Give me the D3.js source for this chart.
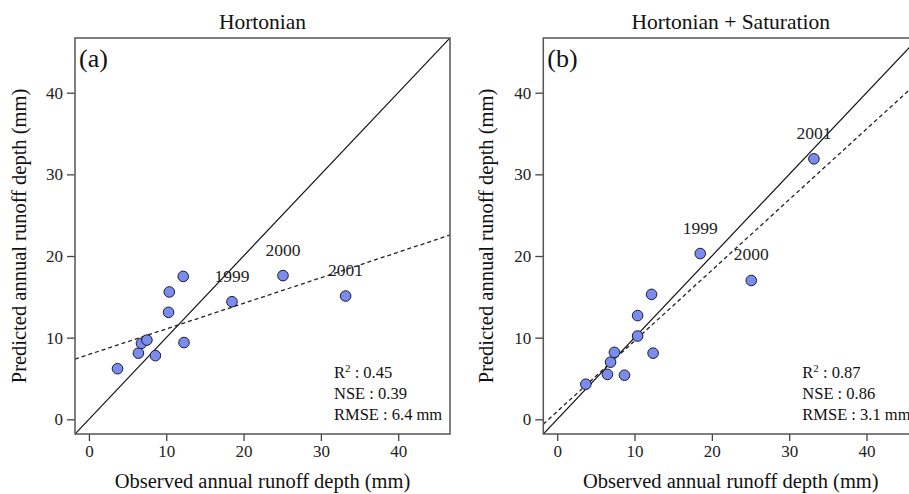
<!DOCTYPE html>
<html>
<head>
  <title>Observed vs predicted annual runoff depth</title>
  <style>
    body { margin: 0; background: #fff; }
    svg { display: block; font-family: 'Liberation Serif', serif; }
  </style>
</head>
<body>
  <div id="chart-container"></div>
  <script src="https://d3js.org/d3.v7.min.js"></script>
  <script>
    // values
    const observedA = [3.7, 6.4, 6.8, 7.5, 8.6, 10.3, 10.4, 12.2, 12.3, 18.5, 25.1, 33.2];
    const predictedA = [6.2, 8.1, 9.3, 9.7, 7.8, 13.1, 15.6, 17.5, 9.4, 14.4, 17.6, 15.1];
    const observedB = [3.7, 6.5, 6.9, 7.4, 8.7, 10.4, 10.4, 12.2, 12.4, 18.5, 25.1, 33.2];
    const predictedB = [4.3, 5.5, 7.0, 8.2, 5.4, 10.2, 12.7, 15.3, 8.1, 20.3, 17.0, 31.9];
    const yearLabels = ['', '', '', '', '', '', '', '', '', '1999', '2000', '2001'];
    const tickValues = [0, 10, 20, 30, 40];
    const axisDomain = [-1.8, 46.7];
    const panelTitles = ['Hortonian', 'Hortonian + Saturation'];
    const panelTags = ['(a)', '(b)'];
    const statsA = ['0.45', '0.39', '6.4 mm'];
    const statsB = ['0.87', '0.86', '3.1 mm'];

    const width = 909;
    const height = 494;
    const plotW = 375;
    const plotH = 396;
    const plotTop = 38;

    const svg = d3.select('#chart-container')
      .append('svg')
      .attr('width', width)
      .attr('height', height);

    const panels = [
      { left: 75, obs: observedA, pred: predictedA, stats: statsA },
      { left: 543.3, obs: observedB, pred: predictedB, stats: statsB },
    ];

    function fitLine(xs, ys) {
      const mx = d3.mean(xs), my = d3.mean(ys);
      let sxy = 0, sxx = 0;
      xs.forEach((x, i) => { sxy += (x - mx) * (ys[i] - my); sxx += (x - mx) ** 2; });
      const slope = sxy / sxx;
      return { slope, intercept: my - slope * mx };
    }

    panels.forEach((p, k) => {
      const g = svg.append('g').attr('transform', `translate(${p.left},${plotTop})`);
      const x = d3.scaleLinear().domain(axisDomain).range([0, plotW]);
      const y = d3.scaleLinear().domain(axisDomain).range([plotH, 0]);

      svg.append('clipPath').attr('id', `clip${k}`)
        .append('rect').attr('width', plotW).attr('height', plotH);

      const xAxis = g.append('g')
        .attr('transform', `translate(0,${plotH})`)
        .call(d3.axisBottom(x).tickValues(tickValues).tickSize(7).tickPadding(4));
      const yAxis = g.append('g')
        .call(d3.axisLeft(y).tickValues(tickValues).tickSize(8).tickPadding(4));
      [xAxis, yAxis].forEach(a => {
        a.select('.domain').remove();
        a.selectAll('line').attr('stroke', '#444').attr('stroke-width', 1.3);
        a.selectAll('text').attr('font-size', 17).attr('fill', '#222')
          .attr('font-family', 'Liberation Serif');
      });

      const lines = g.append('g').attr('clip-path', `url(#clip${k})`);
      // 1:1 line
      lines.append('line')
        .attr('x1', x(axisDomain[0])).attr('y1', y(axisDomain[0]))
        .attr('x2', x(axisDomain[1])).attr('y2', y(axisDomain[1]))
        .attr('stroke', '#111').attr('stroke-width', 1.2);
      // regression line
      const fit = fitLine(p.obs, p.pred);
      lines.append('line')
        .attr('x1', x(axisDomain[0])).attr('y1', y(fit.intercept + fit.slope * axisDomain[0]))
        .attr('x2', x(axisDomain[1])).attr('y2', y(fit.intercept + fit.slope * axisDomain[1]))
        .attr('stroke', '#222').attr('stroke-width', 1.3).attr('stroke-dasharray', '4,3');

      g.selectAll('.pt')
        .data(p.obs.map((o, i) => ({ o, pr: p.pred[i], label: yearLabels[i] })))
        .enter()
        .append('circle')
        .attr('class', 'pt')
        .attr('cx', d => x(d.o))
        .attr('cy', d => y(d.pr))
        .attr('r', 5.3)
        .attr('fill', '#7b8cf0')
        .attr('stroke', '#1a1a2a')
        .attr('stroke-width', 1);

      g.selectAll('.yr')
        .data(p.obs.map((o, i) => ({ o, pr: p.pred[i], label: yearLabels[i] })).filter(d => d.label))
        .enter()
        .append('text')
        .attr('class', 'yr')
        .attr('x', d => x(d.o))
        .attr('y', d => y(d.pr) - 20)
        .attr('text-anchor', 'middle')
        .attr('font-size', 17.5)
        .attr('fill', '#222')
        .text(d => d.label);

      g.append('rect')
        .attr('width', plotW).attr('height', plotH)
        .attr('fill', 'none').attr('stroke', '#555').attr('stroke-width', 1.5);

      g.append('text')
        .attr('x', 4).attr('y', 29)
        .attr('font-size', 26).attr('fill', '#111')
        .text(panelTags[k]);

      g.append('text')
        .attr('x', plotW / 2).attr('y', -9)
        .attr('text-anchor', 'middle')
        .attr('font-size', 21.5).attr('fill', '#111')
        .text(panelTitles[k]);

      const st = g.append('text')
        .attr('x', 259).attr('y', 340)
        .attr('font-size', 16.5).attr('fill', '#111');
      const r2 = st.append('tspan').attr('x', 259);
      r2.append('tspan').text('R');
      r2.append('tspan').attr('dy', -6).attr('font-size', 11).text('2');
      r2.append('tspan').attr('dy', 6).text(` : ${p.stats[0]}`);
      st.append('tspan').attr('x', 259).attr('dy', 21).text(`NSE : ${p.stats[1]}`);
      st.append('tspan').attr('x', 259).attr('dy', 20.5).text(`RMSE : ${p.stats[2]}`);

      g.append('text')
        .attr('x', plotW / 2).attr('y', plotH + 54)
        .attr('text-anchor', 'middle')
        .attr('font-size', 20.5).attr('fill', '#111')
        .text('Observed annual runoff depth (mm)');

      g.append('text')
        .attr('transform', `translate(${k === 0 ? -49 : -50},${plotH / 2}) rotate(-90)`)
        .attr('text-anchor', 'middle')
        .attr('font-size', 20.5).attr('fill', '#111')
        .text('Predicted annual runoff depth (mm)');
    });
  </script>
</body>
</html>
